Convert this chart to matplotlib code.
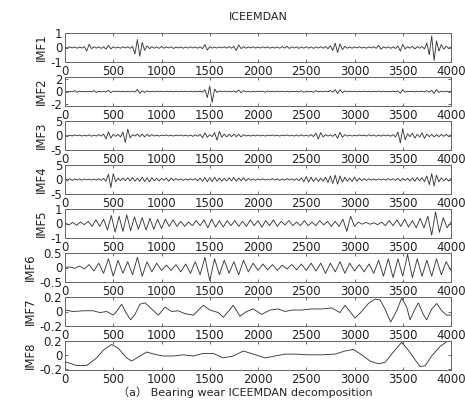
import numpy as np
import matplotlib; matplotlib.use("Agg"); import matplotlib.pyplot as plt

plt.rcParams['font.family'] = ['DejaVu Sans', 'Noto Sans CJK SC']

N_SAMPLES = 4000
XTICKS = [0, 500, 1000, 1500, 2000, 2500, 3000, 3500, 4000]
NAMES = ["IMF1", "IMF2", "IMF3", "IMF4", "IMF5", "IMF6", "IMF7", "IMF8"]
YLIMS = [(-1, 1), (-2.4, 2.4), (-5, 5), (-5, 5), (-1, 1), (-0.5, 0.5), (-0.2, 0.2), (-0.22, 0.2)]
YTICKS = [[-1, 0, 1], [-2, 0, 2], [-5, 0, 5], [-5, 0, 5], [-1, 0, 1],
          [-0.5, 0, 0.5], [-0.2, 0, 0.2], [-0.2, 0, 0.2]]

# values; IMF1-4 every 25 samples, IMF5 every 40, IMF6 every 50
imf1 = [0.03,-0.04,0.05,-0.03,0.04,-0.05,0.03,-0.04,
        0.06,-0.25,0.22,-0.08,0.05,-0.04,0.04,-0.06,
        0.05,-0.12,0.15,-0.1,0.05,-0.04,0.03,-0.05,
        0.04,-0.03,0.05,-0.06,0.08,-0.45,0.55,-0.6,
        0.35,-0.2,0.12,-0.08,0.06,-0.05,0.04,-0.06,
        0.07,-0.05,0.04,-0.03,0.05,-0.07,0.04,-0.03,
        0.04,-0.05,0.03,-0.04,0.05,-0.03,0.04,-0.05,
        0.05,-0.08,0.2,-0.18,0.06,-0.04,0.03,-0.04,
        0.04,-0.03,0.05,-0.04,0.06,-0.05,0.08,-0.2,
        0.18,-0.08,0.06,-0.05,0.04,-0.03,0.05,-0.04,
        0.03,-0.04,0.05,-0.03,0.04,-0.05,0.03,-0.04,
        0.04,-0.05,0.06,-0.04,0.08,-0.07,0.05,-0.04,
        0.05,-0.06,0.04,-0.05,0.06,-0.05,0.04,-0.06,
        0.05,-0.04,0.06,-0.05,0.07,-0.08,0.12,-0.2,
        0.3,-0.35,0.25,-0.15,0.08,-0.05,0.04,-0.05,
        0.04,-0.03,0.05,-0.04,0.03,-0.05,0.04,-0.03,
        0.05,-0.06,0.15,-0.12,0.05,-0.04,0.05,-0.06,
        0.05,-0.07,0.1,-0.25,0.22,-0.1,0.06,-0.05,
        0.08,-0.1,0.06,-0.05,0.07,-0.1,0.3,-0.5,
        0.8,-0.9,0.45,-0.25,0.2,-0.12,0.1,-0.06,
        0.04]
imf2 = [0.05,-0.06,0.04,-0.05,0.15,-0.12,0.06,-0.05,
        0.04,-0.06,0.05,-0.04,0.15,-0.14,0.05,-0.06,
        0.05,-0.1,0.2,-0.18,0.08,-0.05,0.06,-0.04,
        0.05,-0.06,0.04,-0.05,0.06,-0.1,0.35,-0.3,
        0.12,-0.15,0.1,-0.06,0.05,-0.04,0.06,-0.05,
        0.04,-0.05,0.06,-0.04,0.05,-0.06,0.04,-0.05,
        0.05,-0.04,0.06,-0.05,0.04,-0.06,0.05,-0.04,
        0.06,-0.1,0.3,-1.0,0.9,-1.8,0.4,-0.15,
        0.08,-0.05,0.06,-0.04,0.05,-0.06,0.1,-0.12,
        0.25,-0.22,0.15,-0.08,0.05,-0.06,0.04,-0.05,
        0.06,-0.04,0.05,-0.12,0.1,-0.05,0.04,-0.06,
        0.05,-0.04,0.06,-0.05,0.04,-0.06,0.05,-0.04,
        0.06,-0.05,0.12,-0.15,0.06,-0.05,0.04,-0.12,
        0.14,-0.06,0.05,-0.04,0.06,-0.05,0.15,-0.1,
        0.3,-0.35,0.3,-0.2,0.1,-0.06,0.05,-0.04,
        0.05,-0.06,0.04,-0.05,0.06,-0.04,0.05,-0.06,
        0.04,-0.05,0.06,-0.04,0.05,-0.06,0.04,-0.05,
        0.06,-0.05,0.1,-0.3,0.28,-0.12,0.05,-0.04,
        0.05,-0.06,0.04,-0.05,0.06,-0.08,0.12,-0.1,
        0.2,-0.3,0.3,-0.15,0.08,-0.06,0.05,-0.04,
        0.05]
imf3 = [0.15,-0.2,0.1,-0.15,0.2,-0.1,0.15,-0.2,
        0.1,-0.15,0.2,-0.25,0.15,-0.2,0.3,-0.2,
        0.5,-1.2,1.3,-0.9,0.4,-0.3,0.4,-0.5,
        1.2,-2.4,2.2,-0.8,0.3,-0.2,0.5,-0.4,
        0.5,-0.5,0.4,-0.3,0.3,-0.2,0.15,-0.2,
        0.15,-0.1,0.2,-0.15,0.1,-0.2,0.15,-0.1,
        0.2,-0.15,0.1,-0.2,0.15,-0.3,0.2,-0.25,
        0.4,-0.8,0.9,-0.6,0.3,-0.4,1.0,-1.6,
        1.4,-0.6,0.5,-0.5,0.4,-0.4,0.5,-0.4,
        0.4,-0.5,0.3,-0.2,0.15,-0.2,0.1,-0.15,
        0.2,-0.15,0.1,-0.2,0.15,-0.1,0.2,-0.15,
        0.1,-0.2,0.15,-0.1,0.2,-0.15,0.1,-0.2,
        0.15,-0.2,0.25,-0.2,0.15,-0.25,0.3,-0.4,
        0.8,-1.2,1.0,-0.5,0.3,-0.2,0.2,-0.3,
        0.5,-1.0,1.1,-0.6,0.3,-0.2,0.15,-0.2,
        0.1,-0.15,0.2,-0.1,0.15,-0.2,0.25,-0.15,
        0.2,-0.25,0.15,-0.2,0.2,-0.15,0.2,-0.25,
        0.3,-0.5,1.2,-2.6,2.4,-1.5,0.6,-0.4,
        0.8,-0.9,0.4,-0.5,0.9,-1.0,0.5,-0.4,
        0.4,-0.5,0.3,-0.4,0.35,-0.3,0.4,-0.3,
        0.2]
imf4 = [0.3,-0.2,0.25,-0.3,0.2,-0.15,0.2,-0.25,
        0.2,-0.15,0.1,-0.2,0.15,-0.2,0.25,-0.3,
        0.4,-0.6,1.8,-2.8,2.0,-0.8,0.5,-0.4,
        0.5,-0.4,0.6,-0.5,0.7,-0.6,0.5,-0.6,
        0.8,-0.7,0.6,-0.8,0.7,-0.5,0.4,-0.5,
        0.4,-0.3,0.5,-0.6,0.5,-0.4,0.3,-0.2,
        0.2,-0.3,0.2,-0.15,0.25,-0.2,0.3,-0.4,
        0.5,-0.6,0.7,-0.8,0.6,-0.7,0.8,-0.6,
        0.5,-0.6,0.4,-0.5,0.6,-0.5,0.7,-0.6,
        0.5,-0.4,0.6,-0.5,0.4,-0.3,0.2,-0.3,
        0.2,-0.15,0.25,-0.2,0.15,-0.2,0.3,-0.2,
        0.25,-0.3,0.2,-0.25,0.3,-0.2,0.25,-0.3,
        0.3,-0.4,0.5,-0.8,1.0,-0.9,0.8,-0.7,
        0.6,-0.7,0.5,-0.6,0.8,-1.0,1.2,-1.4,
        1.5,-1.6,1.2,-0.9,0.8,-0.6,0.5,-0.7,
        0.8,-0.6,0.5,-0.4,0.3,-0.3,0.25,-0.2,
        0.2,-0.25,0.2,-0.15,0.2,-0.25,0.3,-0.2,
        0.25,-0.3,0.4,-0.5,0.4,-0.3,0.4,-0.5,
        0.5,-0.6,0.7,-0.5,0.6,-0.8,1.2,-1.8,
        2.0,-2.2,1.5,-0.8,0.6,-0.5,0.4,-0.5,
        0.3]
imf5 = [0.05,-0.1,0.08,-0.12,0.1,-0.08,0.15,-0.2,0.25,-0.2,
        0.3,-0.45,0.55,-0.6,0.5,-0.55,0.6,-0.5,0.45,-0.4,
        0.4,-0.45,0.35,-0.4,0.3,-0.35,0.3,-0.2,0.25,-0.2,
        0.15,-0.2,0.1,-0.15,0.2,-0.15,0.25,-0.3,0.3,-0.25,
        0.2,-0.25,0.2,-0.15,0.2,-0.2,0.15,-0.2,0.25,-0.15,
        0.2,-0.25,0.2,-0.15,0.25,-0.2,0.15,-0.1,0.2,-0.15,
        0.1,-0.15,0.2,-0.15,0.1,-0.15,0.2,-0.1,0.15,-0.2,
        0.15,-0.2,0.3,-0.55,0.5,-0.2,0.1,-0.05,0.08,-0.05,
        0.05,-0.08,0.1,-0.15,0.2,-0.15,0.25,-0.2,0.3,-0.25,
        0.2,-0.3,0.35,-0.3,0.5,-0.8,0.8,-0.6,0.4,-0.3,
        0.1]
imf6 = [0.0,0.02,-0.03,0.05,-0.05,0.1,-0.12,0.15,-0.2,0.3,
        -0.3,0.25,-0.2,0.2,-0.25,0.35,-0.3,0.2,-0.15,0.15,
        -0.1,0.08,-0.1,0.1,-0.15,0.12,-0.2,0.2,-0.25,0.35,
        -0.45,0.3,-0.25,0.25,-0.2,0.2,-0.25,0.25,-0.15,0.15,
        -0.1,0.12,-0.08,0.1,-0.1,0.08,-0.05,0.1,-0.08,0.12,
        -0.1,0.15,-0.12,0.15,-0.2,0.15,-0.15,0.2,-0.2,0.15,
        -0.12,0.1,-0.15,0.12,-0.2,0.25,-0.3,0.3,-0.35,0.3,
        -0.3,0.45,-0.35,0.3,-0.3,0.25,-0.3,0.3,-0.25,0.2,
        -0.1]
imf7_x = [0,86,190,293,362,431,500,535,587,632,680,725,777,829,898,967,1036,1105,1174,1243,
          1330,1433,1502,1589,1640,1692,1744,1813,1882,1951,2038,2124,2211,2280,2349,2452,2556,
          2660,2763,2849,2902,2953,3005,3074,3143,3212,3264,3316,3375,3437,3489,3541,3575,3627,
          3662,3713,3748,3800,3852,3904,3955,4000]
imf7_y = [0.02,0,0.01,0.01,-0.015,0,-0.05,0,0.1,-0.015,-0.115,-0.04,0.1,0.12,0.035,-0.05,0.06,0,
          0.01,-0.03,-0.05,0.085,0.02,-0.015,-0.08,0,0.085,-0.065,0,0.035,-0.04,0.02,0.035,0,0.02,
          0.02,0.035,0.035,0.05,-0.015,0.085,0,-0.09,0,0.11,0.17,0.16,0.035,-0.145,0.01,0.185,0.06,
          -0.115,0.035,0.12,-0.04,-0.115,0.035,0.11,0.01,-0.05,-0.05]
imf8_x = [0,121,224,328,397,483,552,639,690,777,846,950,1019,1123,1226,1330,1433,1537,1640,1744,
          1848,1951,2073,2176,2280,2383,2521,2660,2798,2902,2988,3074,3161,3247,3316,3402,3489,
          3558,3627,3679,3731,3800,3886,3955,4000]
imf8_y = [-0.1,-0.155,-0.155,-0.045,0.067,0.15,0.095,-0.045,-0.09,-0.017,0.04,0,-0.017,-0.017,0,
          -0.017,0.02,0.02,-0.045,-0.017,0.055,0.01,-0.045,-0.017,0.01,0.01,0,0,0.01,0.055,0.078,0,
          -0.09,-0.13,-0.11,0.04,0.18,0.067,-0.07,-0.17,-0.16,-0.017,0.12,0.19,0.195]

series = [(np.linspace(0, N_SAMPLES, len(v)), v) for v in (imf1, imf2, imf3, imf4, imf5, imf6)]
series += [(imf7_x, imf7_y), (imf8_x, imf8_y)]

fig = plt.figure(figsize=(4.65, 4.03), dpi=100)
W, H = 465.0, 403.0
for k, ((x, y), name) in enumerate(zip(series, NAMES)):
    top = 33 + 44 * k
    ax = fig.add_axes([65 / W, 1 - (top + 29) / H, 386 / W, 29 / H])
    ax.plot(x, y, color="#3a3a3a", lw=0.65)
    ax.set_xlim(0, N_SAMPLES); ax.set_ylim(*YLIMS[k])
    ax.set_xticks(XTICKS); ax.set_yticks(YTICKS[k])
    ax.set_yticklabels([f"{t:g}" for t in YTICKS[k]])
    ax.tick_params(direction="in", length=2.5, width=0.6, labelsize=8.5, pad=2,
                   top=True, right=True, colors="#555555", labelcolor="#222222")
    for sp in ax.spines.values():
        sp.set_color("#666666"); sp.set_linewidth(0.7)
    ax.set_ylabel(name, fontsize=8.5, labelpad=2, color="#222222")

fig.text(258 / W, 1 - 17 / H, "ICEEMDAN", ha="center", va="center", fontsize=8, color="#222222")
fig.text(245 / W, 1 - 392 / H, "（a） Bearing wear ICEEMDAN decomposition",
         ha="center", va="center", fontsize=8, color="#222222")
fig.savefig("out.png", dpi=100)
